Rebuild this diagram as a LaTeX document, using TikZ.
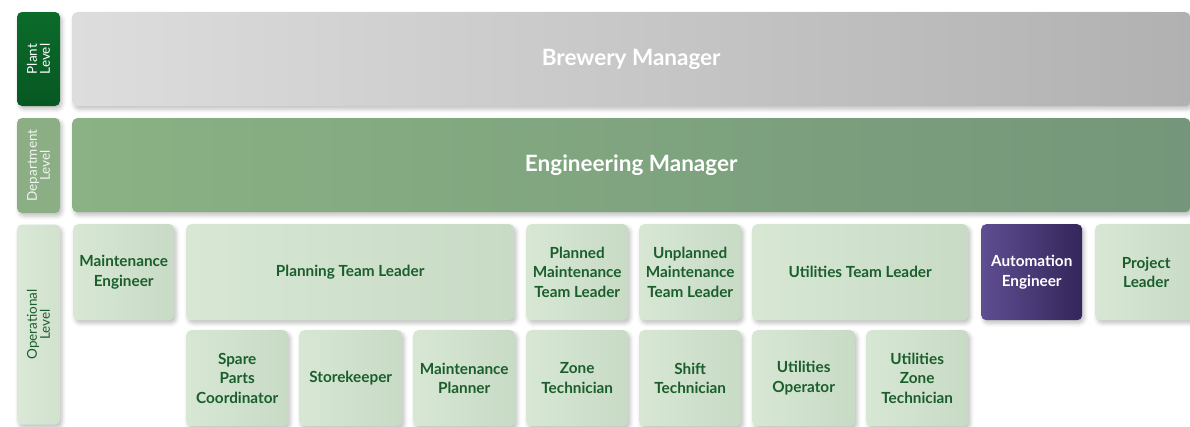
\documentclass[tikz,border=0pt]{standalone}
\usepackage{fontspec}
\setmainfont{Lato}
\usetikzlibrary{shadows.blur}

\definecolor{plantgreen}{HTML}{0B6B2B}
\definecolor{plantdark}{HTML}{075822}
\definecolor{deptgreen}{HTML}{8BAE85}
\definecolor{opgreen}{HTML}{D1E2CD}
\definecolor{roleleft}{HTML}{D7E7D4}
\definecolor{roleright}{HTML}{C8DBC5}
\definecolor{roletext}{HTML}{1A5E2C}
\definecolor{autoleft}{HTML}{5E4E92}
\definecolor{autoright}{HTML}{34255A}
\definecolor{grayleft}{HTML}{DDDDDD}
\definecolor{grayright}{HTML}{B1B1B1}
\definecolor{engleft}{HTML}{8AB284}
\definecolor{engright}{HTML}{74967A}

\begin{document}
\begin{tikzpicture}[x=1pt,y=-1pt]
\tikzstyle{every node}=[align=center, inner sep=0pt, anchor=north west]
\tikzstyle{soft}=[blur shadow={shadow xshift=2pt, shadow yshift=-3pt, shadow blur radius=4pt, shadow opacity=25}]
\tikzstyle{level}=[soft, rounded corners=5pt, anchor=center, rotate=90, minimum height=43pt,
	font=\fontsize{13.5}{13}\selectfont]
\tikzstyle{bar}=[soft, rounded corners=5pt, minimum height=94pt, text=white,
	font=\fontsize{22.5}{26}\selectfont\bfseries]
\tikzstyle{role}=[soft, rounded corners=5pt, left color=roleleft, right color=roleright, text=roletext,
	minimum height=96pt, font=\fontsize{15.3}{19.5}\selectfont\bfseries]

	\useasboundingbox (0,0) rectangle (1190,426);
	\clip (0,0) rectangle (1190,426);

	% level tabs down the left side
	\node[level, text=white, top color=plantgreen, bottom color=plantdark, minimum width=94pt]
		(plant) at (38.5,59) {Plant\\Level};
	\node[level, text=white!88!deptgreen, fill=deptgreen, minimum width=95pt]
		(dept) at (38.5,165.5) {Department\\Level};
	\node[level, text=roletext, left color=opgreen!80!white, right color=opgreen, minimum width=200pt]
		(oper) at (38.5,324.5) {Operational\\Level};

	% plant and department rows
	\node[bar, left color=grayleft, right color=grayright, minimum width=1118pt]
		(brewery) at (72,12) {Brewery Manager};
	\node[bar, left color=engleft, right color=engright, minimum width=1118pt]
		(engmgr) at (72,118) {Engineering Manager};

	% operational level, first row
	\node[role, minimum width=101pt] (mainteng) at (73,224) {Maintenance\\Engineer};
	\node[role, minimum width=328pt] (planlead) at (186,224) {Planning Team Leader};
	\node[role, minimum width=102pt] (plannedlead) at (526,224) {Planned\\Maintenance\\Team Leader};
	\node[role, minimum width=102pt] (unplannedlead) at (639,224) {Unplanned\\Maintenance\\Team Leader};
	\node[role, minimum width=216pt] (utillead) at (752,224) {Utilities Team Leader};
	\node[role, left color=autoleft, right color=autoright, text=white, minimum width=101pt]
		(autoeng) at (981,224) {Automation\\Engineer};
	\node[role, minimum width=102pt] (projlead) at (1095,224) {Project\\Leader};

	% operational level, second row
	\node[role, minimum width=102pt] (spareparts) at (186,330) {Spare\\Parts\\Coordinator};
	\node[role, minimum width=103pt] (storekeeper) at (299,330) {Storekeeper};
	\node[role, minimum width=102pt] (maintplanner) at (413,330) {Maintenance\\Planner};
	\node[role, minimum width=102pt] (zonetech) at (526,330) {Zone\\Technician};
	\node[role, minimum width=102pt] (shifttech) at (639,330) {Shift\\Technician};
	\node[role, minimum width=103pt] (utilop) at (752,330) {Utilities\\Operator};
	\node[role, minimum width=102pt] (utilzone) at (866,330) {Utilities\\Zone\\Technician};
\end{tikzpicture}
\end{document}
